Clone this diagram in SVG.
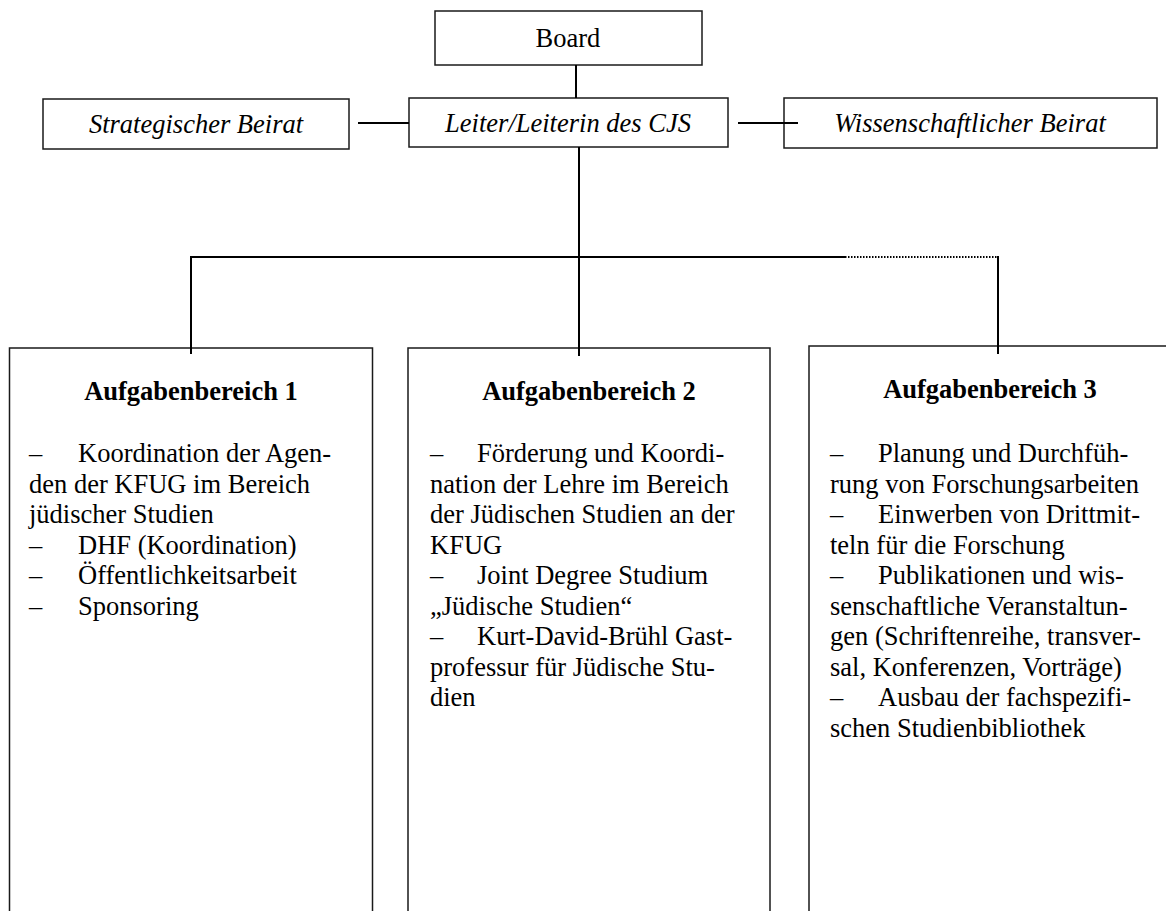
<svg xmlns="http://www.w3.org/2000/svg" width="1166" height="911" viewBox="0 0 1166 911">
<style>
.box{fill:#fff;stroke:#1a1a1a;stroke-width:1.5}
.c{stroke:#000;stroke-width:2;fill:none}
.d{stroke:#000;stroke-width:2;fill:none;stroke-dasharray:1.5 1.5}
text{font-family:"Liberation Serif","Times New Roman",serif;font-size:26.5px;fill:#000}
.i{font-style:italic}
.h{font-weight:bold}
.m{text-anchor:middle}
</style>
<rect width="1166" height="911" fill="#fff"/>
<g id="board">
<rect class="box" x="435" y="11" width="267" height="54"/>
<text class="m" x="568" y="47">Board</text>
</g>
<g id="leiter">
<rect class="box" x="409" y="98" width="319" height="49"/>
<text class="m i" x="568" y="132">Leiter/Leiterin des CJS</text>
</g>
<g id="strategischer-beirat">
<rect class="box" x="43" y="99" width="306" height="50"/>
<text class="m i" x="196" y="133">Strategischer Beirat</text>
</g>
<g id="wissenschaftlicher-beirat">
<rect class="box" x="784" y="98" width="373" height="50"/>
<text class="m i" x="970" y="132">Wissenschaftlicher Beirat</text>
</g>
<g id="aufgabenbereich-1">
<rect class="box" x="9.5" y="348" width="363" height="580"/>
<text class="m h" x="191" y="400">Aufgabenbereich 1</text>
<text x="29" y="462">–</text><text x="78" y="462">Koordination der Agen-</text>
<text x="29" y="492.5">den der KFUG im Bereich</text>
<text x="29" y="523">jüdischer Studien</text>
<text x="29" y="553.5">–</text><text x="78" y="553.5">DHF (Koordination)</text>
<text x="29" y="584">–</text><text x="78" y="584">Öffentlichkeitsarbeit</text>
<text x="29" y="614.5">–</text><text x="78" y="614.5">Sponsoring</text>
</g>
<g id="aufgabenbereich-2">
<rect class="box" x="408" y="348" width="362" height="580"/>
<text class="m h" x="589" y="400">Aufgabenbereich 2</text>
<text x="430" y="462">–</text><text x="477" y="462">Förderung und Koordi-</text>
<text x="430" y="492.5">nation der Lehre im Bereich</text>
<text x="430" y="523">der Jüdischen Studien an der</text>
<text x="430" y="553.5">KFUG</text>
<text x="430" y="584">–</text><text x="477" y="584">Joint Degree Studium</text>
<text x="430" y="614.5">„Jüdische Studien“</text>
<text x="430" y="645">–</text><text x="477" y="645">Kurt-David-Brühl Gast-</text>
<text x="430" y="675.5">professur für Jüdische Stu-</text>
<text x="430" y="706">dien</text>
</g>
<g id="aufgabenbereich-3">
<rect class="box" x="809" y="346" width="370" height="580"/>
<text class="m h" x="990" y="398">Aufgabenbereich 3</text>
<text x="830" y="462">–</text><text x="878" y="462">Planung und Durchfüh-</text>
<text x="830" y="492.5">rung von Forschungsarbeiten</text>
<text x="830" y="523">–</text><text x="878" y="523">Einwerben von Drittmit-</text>
<text x="830" y="553.5">teln für die Forschung</text>
<text x="830" y="584">–</text><text x="878" y="584">Publikationen und wis-</text>
<text x="830" y="614.5">senschaftliche Veranstaltun-</text>
<text x="830" y="645">gen (Schriftenreihe, transver-</text>
<text x="830" y="675.5">sal, Konferenzen, Vorträge)</text>
<text x="830" y="706">–</text><text x="878" y="706">Ausbau der fachspezifi-</text>
<text x="830" y="736.5">schen Studienbibliothek</text>
</g>
<g id="connectors">
<line class="c" x1="576" y1="65" x2="576" y2="98"/>
<line class="c" x1="358" y1="123" x2="409" y2="123"/>
<line class="c" x1="738" y1="123" x2="798" y2="123"/>
<line class="c" x1="579" y1="147" x2="579" y2="356"/>
<line class="c" x1="191" y1="257" x2="845" y2="257"/>
<line class="d" x1="845" y1="257" x2="998" y2="257"/>
<line class="c" x1="191" y1="256" x2="191" y2="354"/>
<line class="c" x1="998" y1="256" x2="998" y2="354"/>
</g>
</svg>
